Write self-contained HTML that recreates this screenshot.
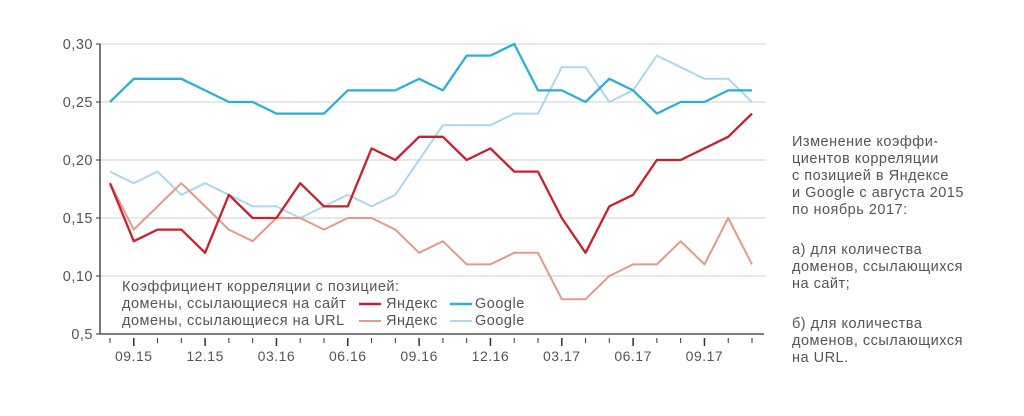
<!DOCTYPE html>
<html><head><meta charset="utf-8"><style>
body{margin:0;background:#fff;width:1024px;height:411px;overflow:hidden;font-family:"Liberation Sans",sans-serif}
text{letter-spacing:0.5px}
</style></head><body>
<svg width="1024" height="411" id="chart" font-family="Liberation Sans, sans-serif">
<g id="grid"></g><g id="axes"></g><g id="series"></g>
<g font-size="14.5" fill="#555">
<text x="122" y="291">Коэффициент корреляции с позицией:</text>
<text x="122" y="308">домены, ссылающиеся на сайт</text>
<text x="122" y="325">домены, ссылающиеся на URL</text>
<line x1="359" y1="304" x2="381" y2="304" stroke="#c8202f" stroke-width="2.5"/>
<text x="386" y="308">Яндекс</text>
<line x1="359" y1="321" x2="381" y2="321" stroke="#e59a88" stroke-width="2"/>
<text x="386" y="325">Яндекс</text>
<line x1="450" y1="304" x2="472" y2="304" stroke="#2bafd6" stroke-width="2.5"/>
<text x="475" y="308">Google</text>
<line x1="450" y1="321" x2="472" y2="321" stroke="#abd8ef" stroke-width="2"/>
<text x="475" y="325">Google</text>
</g>
<g font-size="14.5" fill="#555">
<text x="792" y="146">Изменение коэффи-</text>
<text x="792" y="163">циентов корреляции</text>
<text x="792" y="180">с позицией в Яндексе</text>
<text x="792" y="197">и Google с августа 2015</text>
<text x="792" y="214">по ноябрь 2017:</text>
<text x="792" y="254">а) для количества</text>
<text x="792" y="271">доменов, ссылающихся</text>
<text x="792" y="288">на сайт;</text>
<text x="792" y="328">б) для количества</text>
<text x="792" y="345">доменов, ссылающихся</text>
<text x="792" y="362">на URL.</text>
</g>
</svg>
<script>
const googleSite=[0.25,0.27,0.27,0.27,0.26,0.25,0.25,0.24,0.24,0.24,0.26,0.26,0.26,0.27,0.26,0.29,0.29,0.30,0.26,0.26,0.25,0.27,0.26,0.24,0.25,0.25,0.26,0.26];
const yandexSite=[0.18,0.13,0.14,0.14,0.12,0.17,0.15,0.15,0.18,0.16,0.16,0.21,0.20,0.22,0.22,0.20,0.21,0.19,0.19,0.15,0.12,0.16,0.17,0.20,0.20,0.21,0.22,0.24];
const googleUrl=[0.19,0.18,0.19,0.17,0.18,0.17,0.16,0.16,0.15,0.16,0.17,0.16,0.17,0.20,0.23,0.23,0.23,0.24,0.24,0.28,0.28,0.25,0.26,0.29,0.28,0.27,0.27,0.25];
const yandexUrl=[0.18,0.14,0.16,0.18,0.16,0.14,0.13,0.15,0.15,0.14,0.15,0.15,0.14,0.12,0.13,0.11,0.11,0.12,0.12,0.08,0.08,0.10,0.11,0.11,0.13,0.11,0.15,0.11];
const yTicks=[0.05,0.10,0.15,0.20,0.25,0.30];
const yTickLabels=["0,5","0,10","0,15","0,20","0,25","0,30"];
const xLabels={1:"09.15",4:"12.15",7:"03.16",10:"06.16",13:"09.16",16:"12.16",19:"03.17",22:"06.17",25:"09.17"};
const NS="http://www.w3.org/2000/svg";
const X=i=>110+i*(752-110)/27;
const Y=v=>334-(v-0.05)*(290/0.25);
function mk(t,a,p){const e=document.createElementNS(NS,t);for(const k in a)e.setAttribute(k,a[k]);p.appendChild(e);return e;}
const grid=document.getElementById('grid'),axes=document.getElementById('axes'),ser=document.getElementById('series');
yTicks.forEach((v,i)=>{
 if(i>0){const g=mk('line',{x1:100,x2:766,y1:Y(v),y2:Y(v),stroke:'#d0d0d0','stroke-width':1},grid);
 
 }
 const tk=mk('line',{x1:96,x2:100,y1:Y(v),y2:Y(v),stroke:'#333','stroke-width':1},axes);
 
 
 const t=mk('text',{x:93,y:Y(v)+5,'text-anchor':'end','font-size':14.5,fill:'#555'},axes);
 
 
 t.textContent=yTickLabels[i];
});
const ya=mk('line',{x1:100,x2:100,y1:Y(0.30),y2:334,stroke:'#333','stroke-width':1.3},axes);


const xa=mk('line',{x1:100,x2:764,y1:334,y2:334,stroke:'#333','stroke-width':1.3},axes);


for(let i=0;i<28;i++){
 const major=xLabels[i]!==undefined;
 const tk=mk('line',{x1:X(i),x2:X(i),y1:338,y2:major?346:343,stroke:'#333','stroke-width':major?1.5:1},axes);
 
 
 if(major){const t=mk('text',{x:X(i),y:361,'text-anchor':'middle','font-size':14,fill:'#555'},axes);
 
 
 t.textContent=xLabels[i];}
}
function line(data,color,w,name){
 const p=mk('polyline',{points:data.map((v,i)=>X(i)+','+Y(v)).join(' '),fill:'none',stroke:color,'stroke-width':w,'stroke-linejoin':'round'},ser);
 
 
}
line(googleUrl,'#abd8ef',2,'google-url-line');
line(yandexUrl,'#e59a88',2,'yandex-url-line');
line(googleSite,'#2bafd6',2.3,'google-site-line');
line(yandexSite,'#c8202f',2.3,'yandex-site-line');
</script>
</body></html>
